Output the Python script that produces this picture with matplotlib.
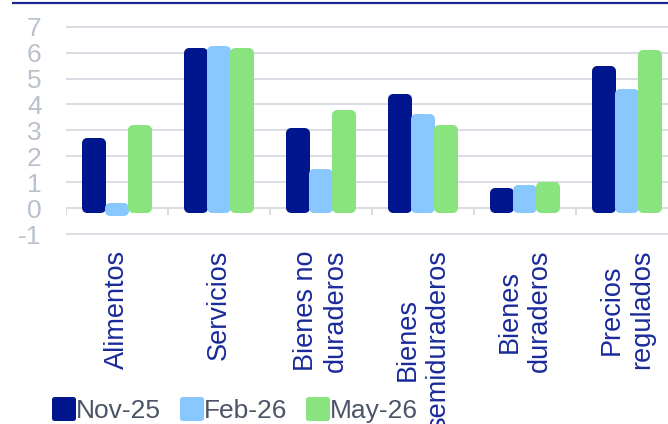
import matplotlib
matplotlib.use("Agg")
import matplotlib.pyplot as plt
from matplotlib.lines import Line2D
import numpy as np

plt.rcParams['font.family'] = ['Liberation Sans', 'DejaVu Sans']

categories = ["Alimentos", "Servicios", "Bienes no\nduraderos",
              "Bienes\nsemiduraderos", "Bienes\nduraderos", "Precios\nregulados"]
series_names = ["Nov-25", "Feb-26", "May-26"]
nov_25 = [2.5, 6.0, 2.9, 4.2, 0.6, 5.3]
feb_26 = [-0.1, 6.05, 1.3, 3.45, 0.7, 4.4]
may_26 = [3.0, 6.0, 3.6, 3.0, 0.8, 5.9]
y_ticks = [-1, 0, 1, 2, 3, 4, 5, 6, 7]

colors = ["#00168f", "#88c8ff", "#89e47f"]
grid_col = "#d6dae1"
label_col = "#1a2a9a"

fig = plt.figure(figsize=(6.68, 4.24), dpi=100)
# axes runs a little past the right edge of the figure
ax = fig.add_axes([66 / 668, 1 - 235.3 / 424, 612 / 668, 209.9 / 424])

x = np.arange(len(categories))
step = 0.2255
# thin bars with a thick round-joined stroke give the rounded look
for i, (vals, name) in enumerate(zip([nov_25, feb_26, may_26], series_names)):
    ax.bar(x + (i - 1) * step, vals, width=0.1275, color=colors[i],
           edgecolor=colors[i], linewidth=7.2, joinstyle='round',
           label=name, zorder=3)

ax.set_xlim(-0.5, len(categories) - 0.5)
ax.set_ylim(-1.05, 7.05)
ax.set_yticks(y_ticks)
ax.set_yticklabels([str(t) for t in y_ticks])
ax.grid(axis='y', color=grid_col, linewidth=1.3)
ax.set_axisbelow(True)
for s in ax.spines.values():
    s.set_visible(False)

# category boundary ticks hanging off the zero line
bounds = np.arange(len(categories) + 1) - 0.5
ax.vlines(bounds, -0.28, 0, color=grid_col, linewidth=1.3, zorder=1)

ax.tick_params(axis='y', length=0, pad=17.5, labelsize=19, labelcolor="#b8c1cc")
ax.set_xticks(x)
ax.set_xticklabels(categories, rotation=90, va='top', ha='center',
                   multialignment='center', fontsize=19.5, color=label_col)
ax.tick_params(axis='x', length=0, pad=10.5)

leg = fig.legend(loc='center left', bbox_to_anchor=(54 / 668, 1 - 411 / 424),
                 ncol=3, frameon=False, fontsize=19, labelcolor="#4b5566",
                 handlelength=0.72, handleheight=0.72, handletextpad=0.1,
                 columnspacing=0.8, borderpad=0, borderaxespad=0)
for h in leg.legend_handles:
    h.set_joinstyle('round')
    h.set_linewidth(3.6)

# rule across the top
fig.add_artist(Line2D([13 / 668, 1], [1 - 3 / 424, 1 - 3 / 424],
                      color="#1c2891", linewidth=1.6))

fig.savefig("out.png", dpi=100)
